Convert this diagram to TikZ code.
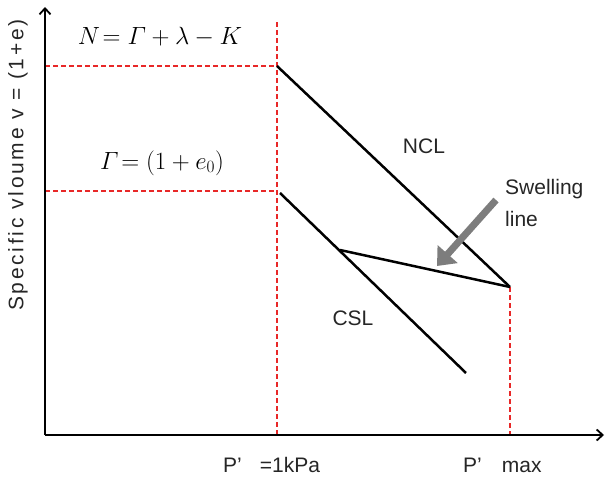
\documentclass[tikz,border=0pt]{standalone}
\usepackage{amsmath}
\usepackage[no-math]{fontspec}
\newfontfamily\labfont{Liberation Sans}
\newfontfamily\ylabfont[LetterSpace=13]{Liberation Sans}
\usetikzlibrary{arrows.meta}
\tikzset{
  axis/.style={line width=2.2pt,-{Straight Barb[length=6pt,width=11pt,line width=1.8pt]}},
  guide/.style={draw={rgb,255:red,232;green,40;blue,40},line width=2.3pt,dash pattern=on 5pt off 3pt},
  curve/.style={line width=2.5pt},
  lab/.style={font=\labfont\fontsize{21}{32}\selectfont,text=black!85,inner sep=0pt},
  mlab/.style={font=\fontsize{23}{27}\selectfont,inner sep=0pt},
  pointer/.style={draw={rgb,255:red,125;green,125;blue,125},line width=7pt,-{Triangle[width=26pt,length=16pt]}}
}
\begin{document}
\begin{tikzpicture}[x=1pt,y=-1pt]
\useasboundingbox (0,0) rectangle (606,479);
\coordinate (O) at (45,435);
\coordinate (ytop) at (45,7);
\coordinate (xend) at (604,435);
\coordinate (N) at (277,66);
\coordinate (G) at (280,193);
\coordinate (Gl) at (45,191);
\coordinate (Nl) at (45,66);
\coordinate (Ptop) at (277,22);
\coordinate (Pbot) at (277,435);
\coordinate (M) at (510,287);
\coordinate (Mbot) at (510,435);
\coordinate (S) at (340,250);
\coordinate (C) at (466,373);
\coordinate (Gv) at (277,191);
% guides
\draw[guide] (Nl) -- (N);
\draw[guide] (Gl) -- (Gv);
\draw[guide] (Ptop) -- (Pbot);
\draw[guide] (M) -- (Mbot);
% axes
\draw[axis] (O) -- (ytop);
\draw[axis] (O) -- (xend);
% lines
\draw[curve] (N) -- (M);
\draw[curve] (G) -- (C);
\draw[curve] (S) -- (M);
% pointer
\coordinate (a1) at (496,200);
\coordinate (a2) at (437,266);
\draw[pointer] (a1) -- (a2);
% labels
\node[mlab] (nlab) at (160,37) {$N\!=\varGamma+\lambda-K$};
\node[mlab] (glab) at (162,163) {$\varGamma\!=(1+e_0)$};
\node[lab] (ncl) at (424,146) {NCL};
\node[lab] (csl) at (353,318) {CSL};
\node[lab,anchor=north west,align=left] (sw) at (505,179.5) {Swelling\\line};
\node[lab,anchor=west] (p1) at (223,465) {P’\hspace{18pt}=1kPa};
\node[lab,anchor=west] (p2) at (463,465) {P’\hspace{20pt}max};
\node[lab,font=\ylabfont\fontsize{21}{24}\selectfont,rotate=90] (yl) at (18,165) {Specific vloume v = (1+e)};
\end{tikzpicture}
\end{document}
